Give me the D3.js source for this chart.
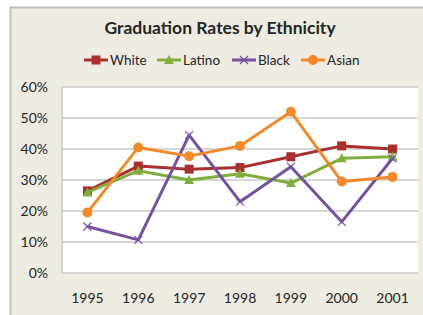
<!DOCTYPE html>
<html>
<head>
<meta charset="utf-8">
<script src="https://cdn.jsdelivr.net/npm/d3@7"></script>
<style>
body { margin: 0; background: #fff; }
svg text { font-family: Lato, "Open Sans", sans-serif; fill: #262626; }
</style>
</head>
<body>
<svg width="423" height="315"></svg>
<script>
var years = ["1995", "1996", "1997", "1998", "1999", "2000", "2001"];
var white = [26.5, 34.5, 33.5, 34, 37.5, 41, 40];
var latino = [26, 33, 30, 32, 29, 37, 37.5];
var black = [15, 10.7, 44.5, 23, 34.3, 16.5, 37];
var asian = [19.5, 40.5, 37.7, 41, 52, 29.5, 31];
var yTicks = [0, 10, 20, 30, 40, 50, 60];

var series = [
  { name: "White", values: white, color: "#A8302F", marker: "square" },
  { name: "Latino", values: latino, color: "#7FAE3E", marker: "triangle" },
  { name: "Black", values: black, color: "#7552A0", marker: "x" },
  { name: "Asian", values: asian, color: "#F2892A", marker: "circle" }
];

var svg = d3.select("svg");

// outer chart frame
svg.append("rect")
    .attr("x", 10.5).attr("y", 7.5)
    .attr("width", 430).attr("height", 320)
    .attr("fill", "#EEECE2")
    .attr("stroke", "#BDBDBD")
    .attr("stroke-width", 2);

var plot = { left: 62, right: 418, top: 87, bottom: 273 };

var x = d3.scaleBand().domain(years).range([plot.left, plot.right]);
var y = d3.scaleLinear().domain([0, 60]).range([plot.bottom, plot.top]);

svg.append("rect")
    .attr("x", plot.left).attr("y", plot.top)
    .attr("width", plot.right - plot.left).attr("height", plot.bottom - plot.top)
    .attr("fill", "#fff");

// gridlines
svg.append("g").selectAll("line")
    .data(yTicks)
    .enter().append("line")
    .attr("x1", plot.left).attr("x2", plot.right)
    .attr("y1", function(d) { return y(d); })
    .attr("y2", function(d) { return y(d); })
    .attr("stroke", "#C8C8C8")
    .attr("stroke-width", 1.5);

svg.append("line")
    .attr("x1", plot.left).attr("x2", plot.left)
    .attr("y1", plot.top).attr("y2", plot.bottom)
    .attr("stroke", "#C8C8C8")
    .attr("stroke-width", 1.5);

// axes
var yAxis = svg.append("g")
    .attr("transform", "translate(" + (plot.left - 14) + ",0)")
    .call(d3.axisLeft(y).tickValues(yTicks).tickSize(0).tickFormat(function(d) { return d + "%"; }));
yAxis.select(".domain").remove();
yAxis.selectAll("text").attr("font-size", 14).attr("dy", "0.35em").attr("x", 0);

var xAxis = svg.append("g")
    .attr("transform", "translate(0," + (plot.bottom + 25) + ")")
    .call(d3.axisBottom(x).tickSize(0));
xAxis.select(".domain").remove();
xAxis.selectAll("text").attr("font-size", 14).attr("dy", "0.35em").attr("y", 0);

var line = d3.line()
    .x(function(d, i) { return x(years[i]) + x.bandwidth() / 2; })
    .y(function(d) { return y(d); });

function drawMarker(g, type, color) {
  if (type === "square") {
    g.append("rect").attr("x", -4.5).attr("y", -4.5).attr("width", 9).attr("height", 9).attr("fill", color);
  } else if (type === "triangle") {
    g.append("path").attr("d", "M0,-5L5,4L-5,4Z").attr("fill", color);
  } else if (type === "circle") {
    g.append("circle").attr("r", 5).attr("fill", color);
  } else {
    g.append("path").attr("d", "M-4,-4L4,4M-4,4L4,-4").attr("stroke", color).attr("stroke-width", 1.2);
  }
}

series.forEach(function(s) {
  svg.append("path")
      .datum(s.values)
      .attr("fill", "none")
      .attr("stroke", s.color)
      .attr("stroke-width", 3)
      .attr("stroke-linejoin", "round")
      .attr("d", line);
  s.values.forEach(function(v, i) {
    var g = svg.append("g")
        .attr("transform", "translate(" + (x(years[i]) + x.bandwidth() / 2) + "," + y(v) + ")");
    drawMarker(g, s.marker, s.color);
  });
});

// title
svg.append("text")
    .attr("x", 220).attr("y", 34)
    .attr("text-anchor", "middle")
    .attr("font-size", 17.5)
    .attr("font-weight", "bold")
    .text("Graduation Rates by Ethnicity");

// legend
var legendX = [84, 157, 232, 301];
series.forEach(function(s, i) {
  var g = svg.append("g").attr("transform", "translate(" + legendX[i] + ",60)");
  g.append("line").attr("x1", 0).attr("x2", 24).attr("stroke", s.color).attr("stroke-width", 3);
  var m = g.append("g").attr("transform", "translate(12,0)");
  drawMarker(m, s.marker, s.color);
  g.append("text").attr("x", 26).attr("dy", "0.35em").attr("font-size", 13.5).text(s.name);
});
</script>
</body>
</html>
